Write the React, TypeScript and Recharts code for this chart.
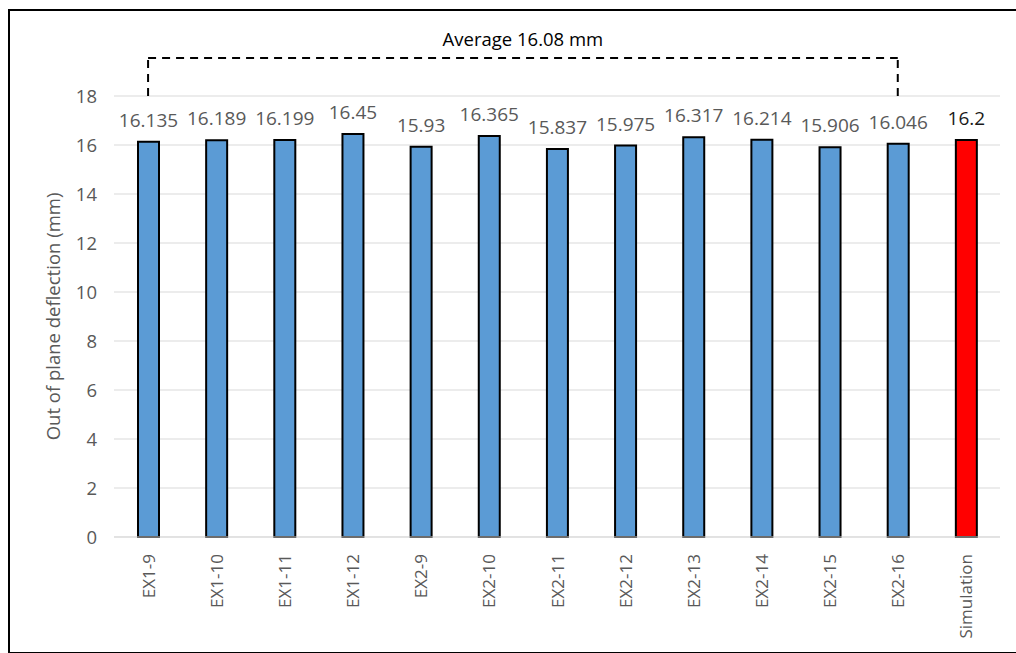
import { BarChart, Bar, XAxis, YAxis, CartesianGrid, Cell, LabelList, ReferenceLine } from 'recharts';

const specimens = ['EX1-9', 'EX1-10', 'EX1-11', 'EX1-12', 'EX2-9', 'EX2-10', 'EX2-11', 'EX2-12', 'EX2-13', 'EX2-14', 'EX2-15', 'EX2-16', 'Simulation'];
const deflection = [16.135, 16.189, 16.199, 16.45, 15.93, 16.365, 15.837, 15.975, 16.317, 16.214, 15.906, 16.046, 16.2];
const yTicks = [0, 2, 4, 6, 8, 10, 12, 14, 16, 18];
const averageText = 'Average 16.08 mm';
const bracketTop = 19.55;

const FONT = '"Open Sans", sans-serif';

const chartData = specimens.map((name, i) => ({ name, value: deflection[i] }));

// rotated category labels, reading bottom to top like Excel
const XTick = ({ x, y, payload }: any) => (
  <text
    transform={`translate(${x},${y + 9}) rotate(-90)`}
    textAnchor="end"
    dominantBaseline="central"
    fontSize={17}
    fill="#595959"
    fontFamily={FONT}
  >
    {payload.value}
  </text>
);

const YTitle = ({ viewBox }: any) => (
  <text
    transform={`translate(42,${viewBox.y + viewBox.height / 2}) rotate(-90)`}
    textAnchor="middle"
    dominantBaseline="central"
    fontSize={18.5}
    fill="#595959"
    fontFamily={FONT}
  >
    Out of plane deflection (mm)
  </text>
);

const ValueLabel = ({ x, y, width, value, index }: any) => {
  const isSim = specimens[index] === 'Simulation';
  return (
    <text
      x={x + width / 2}
      y={y - 15}
      textAnchor="middle"
      fontSize={19}
      fill={isSim ? '#1a1a1a' : '#595959'}
      fontFamily={FONT}
    >
      {value}
    </text>
  );
};

export default function App() {
  const first = specimens[0];
  const last = specimens[11];
  const dash = { stroke: '#000', strokeWidth: 2, strokeDasharray: '8 6' };

  return (
    <>
      <style>{'html, body { overflow: hidden; }'}</style>
      <div
        style={{
          position: 'absolute',
          left: 8,
          top: 9,
          width: 1030,
          height: 641,
          border: '2px solid #000',
          background: '#fff',
        }}
      >
        <BarChart
          width={1004}
          height={640}
          data={chartData}
          margin={{ top: 85, right: 14, bottom: 14, left: 0 }}
          barCategoryGap={0}
        >
          <CartesianGrid horizontal vertical={false} stroke="#d9d9d9" />
          <XAxis
            dataKey="name"
            height={100}
            interval={0}
            tickLine={false}
            axisLine={{ stroke: '#d9d9d9' }}
            tick={<XTick />}
          />
          <YAxis
            width={104}
            domain={[0, 18]}
            ticks={yTicks}
            axisLine={false}
            tickLine={false}
            tickMargin={11}
            tick={{ fontSize: 18.5, fill: '#595959', fontFamily: FONT }}
            label={<YTitle />}
          />
          <Bar dataKey="value" barSize={21} stroke="#000" strokeWidth={2} isAnimationActive={false}>
            {chartData.map((d) => (
              <Cell key={d.name} fill={d.name === 'Simulation' ? '#ff0000' : '#5b9bd5'} />
            ))}
            <LabelList dataKey="value" content={<ValueLabel />} />
          </Bar>

          {/* dashed bracket over the experimental specimens */}
          <ReferenceLine segment={[{ x: first, y: 18 }, { x: first, y: bracketTop }]} ifOverflow="visible" {...dash} />
          <ReferenceLine segment={[{ x: last, y: 18 }, { x: last, y: bracketTop }]} ifOverflow="visible" {...dash} />
          <ReferenceLine
            segment={[{ x: first, y: bracketTop }, { x: last, y: bracketTop }]}
            ifOverflow="visible"
            {...dash}
            label={{ value: averageText, position: 'top', offset: 12, fontSize: 18.5, fill: '#000', fontFamily: FONT }}
          />
        </BarChart>
      </div>
    </>
  );
}
